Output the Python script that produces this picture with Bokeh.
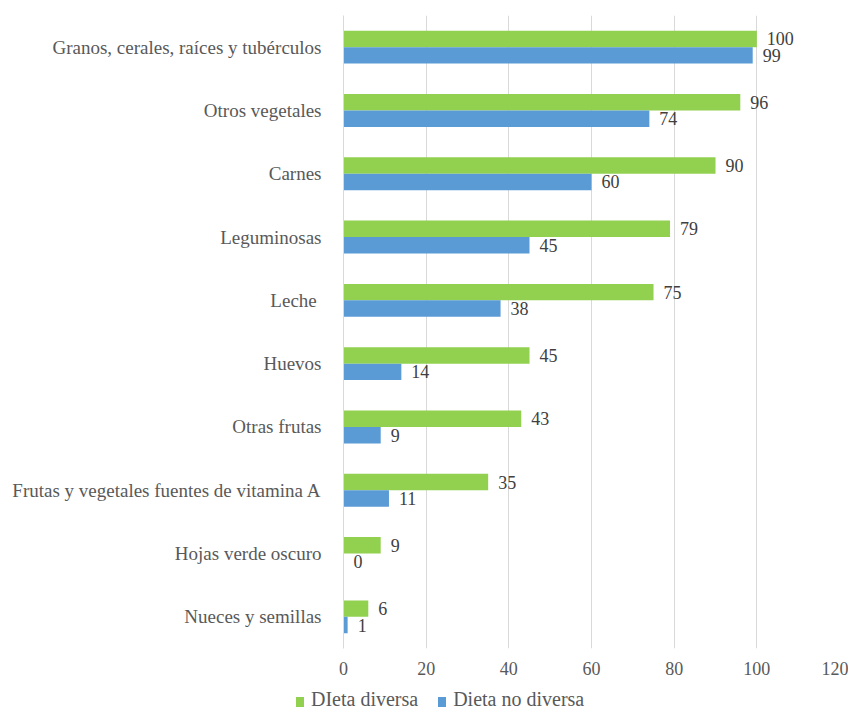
from bokeh.plotting import figure
from bokeh.layouts import column
from bokeh.models import FactorRange, Range1d, ColumnDataSource, FixedTicker, Div
from bokeh.transform import dodge
from bokeh.core.properties import value
from bokeh.embed import file_html
from bokeh.resources import INLINE

categories = ["Granos, cerales, raíces y tubérculos", "Otros vegetales", "Carnes",
              "Leguminosas", "Leche ", "Huevos", "Otras frutas",
              "Frutas y vegetales fuentes de vitamina A", "Hojas verde oscuro",
              "Nueces y semillas"]
dieta_diversa = [100, 96, 90, 79, 75, 45, 43, 35, 9, 6]
dieta_no_diversa = [99, 74, 60, 45, 38, 14, 9, 11, 0, 1]
series_names = ["DIeta diversa", "Dieta no diversa"]
x_ticks = [0, 20, 40, 60, 80, 100, 120]

GREEN = "#92d050"
BLUE = "#5b9bd5"
FONT = "Liberation Serif"
GRAY = "#595959"

src = ColumnDataSource(dict(
    cat=categories,
    a=dieta_diversa,
    b=dieta_no_diversa,
    la=[str(v) for v in dieta_diversa],
    lb=[str(v) for v in dieta_no_diversa],
))

p = figure(width=848, height=680, output_backend="svg", toolbar_location=None,
           y_range=FactorRange(factors=categories[::-1], range_padding=0),
           x_range=Range1d(0, 120),
           min_border_left=343, min_border_right=9, min_border_top=15, min_border_bottom=32)
p.outline_line_color = None
p.background_fill_color = "white"

ga = p.hbar(y=dodge("cat", 0.13, range=p.y_range), right="a", left=0, height=0.26,
            source=src, fill_color=GREEN, line_color=None)
gb = p.hbar(y=dodge("cat", -0.13, range=p.y_range), right="b", left=0, height=0.26,
            source=src, fill_color=BLUE, line_color=None)

p.text(x="a", y=dodge("cat", 0.13, range=p.y_range), text="la", source=src,
       x_offset=10, text_baseline="middle", text_font=value(FONT),
       text_font_size="18px", text_color="#404040")
p.text(x="b", y=dodge("cat", -0.13, range=p.y_range), text="lb", source=src,
       x_offset=10, text_baseline="middle", text_font=value(FONT),
       text_font_size="18px", text_color="#404040")

p.xaxis.ticker = FixedTicker(ticks=x_ticks)
p.xaxis.axis_line_color = None
p.xaxis.major_tick_line_color = None
p.xaxis.minor_tick_line_color = None
p.xaxis.major_label_text_font = FONT
p.xaxis.major_label_text_font_size = "18px"
p.xaxis.major_label_text_color = GRAY
p.xaxis.major_label_standoff = 7

p.yaxis.axis_line_color = "#d9d9d9"
p.yaxis.major_tick_line_color = None
p.yaxis.minor_tick_line_color = None
p.yaxis.major_label_text_font = FONT
p.yaxis.major_label_text_font_size = "19px"
p.yaxis.major_label_text_color = GRAY
p.yaxis.major_label_standoff = 16

p.xgrid.grid_line_color = "#d9d9d9"
p.ygrid.grid_line_color = None

# legend strip below the chart
def swatch(color):
    return ('<span style="display:inline-block;width:8px;height:10px;background:%s;'
            'margin-right:7px;vertical-align:-1px"></span>' % color)

legend_html = (
    '<div style="font-family:\'Liberation Serif\';font-size:20px;color:%s;'
    'padding-left:296px;padding-top:8px;line-height:22px;white-space:nowrap">'
    '%s%s<span style="display:inline-block;width:20px"></span>%s%s</div>'
    % (GRAY, swatch(GREEN), series_names[0], swatch(BLUE), series_names[1])
)
legend_div = Div(text=legend_html, width=848, height=32, margin=0)

open("out.html", "w").write(file_html(column(p, legend_div, spacing=0), INLINE))
